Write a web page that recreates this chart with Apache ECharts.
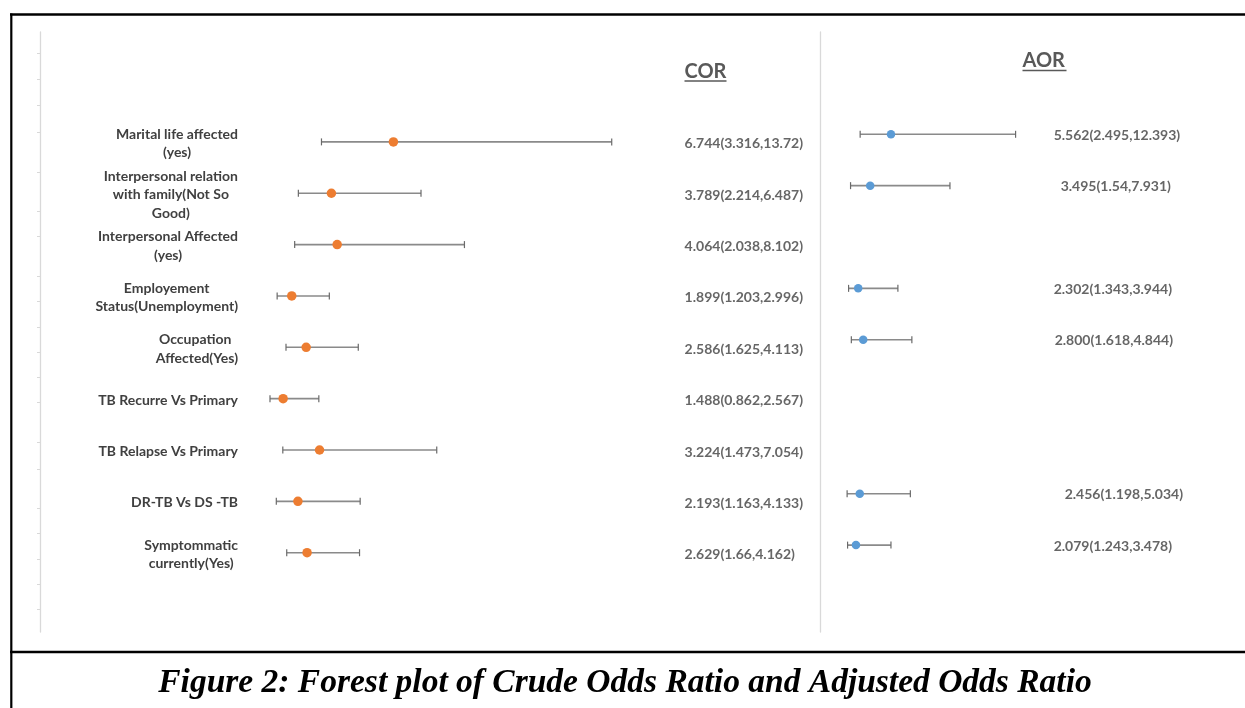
<!DOCTYPE html>
<html><head><meta charset="utf-8">
<script src="https://cdn.jsdelivr.net/npm/echarts@6/dist/echarts.min.js"></script>
<style>html,body{margin:0;padding:0;background:#fff}#c{width:1245px;height:708px}</style>
</head><body><div id="c"></div>
<script>
// ---------------- data ----------------
const categories = [
  'Marital life affected\n(yes)',
  'Interpersonal relation\nwith family(Not So\nGood)',
  'Interpersonal Affected\n(yes)',
  'Employement\nStatus(Unemployment)',
  'Occupation \nAffected(Yes)',
  'TB Recurre Vs Primary',
  'TB Relapse Vs Primary',
  'DR-TB Vs DS -TB',
  'Symptommatic\ncurrently(Yes)'
];
const corEstimate = [6.744, 3.789, 4.064, 1.899, 2.586, 1.488, 3.224, 2.193, 2.629];
const corLower    = [3.316, 2.214, 2.038, 1.203, 1.625, 0.862, 1.473, 1.163, 1.66];
const corUpper    = [13.72, 6.487, 8.102, 2.996, 4.113, 2.567, 7.054, 4.133, 4.162];
// right whisker ends as they are drawn in the picture
const corWhiskerEnd = [17.15, 8.06, 10.13, 3.69, 5.07, 3.19, 8.81, 5.16, 5.13];
const corLabels = ['6.744(3.316,13.72)', '3.789(2.214,6.487)', '4.064(2.038,8.102)', '1.899(1.203,2.996)',
  '2.586(1.625,4.113)', '1.488(0.862,2.567)', '3.224(1.473,7.054)', '2.193(1.163,4.133)', '2.629(1.66,4.162)'];

const aorEstimate = [5.562, 3.495, null, 2.302, 2.800, null, null, 2.456, 2.079];
const aorLower    = [2.495, 1.54, null, 1.343, 1.618, null, null, 1.198, 1.243];
const aorUpper    = [12.393, 7.931, null, 3.944, 4.844, null, null, 5.034, 3.478];
const aorWhiskerEnd = [17.96, 11.43, null, 6.25, 7.64, null, null, 7.49, 5.56];
const aorLabels = ['5.562(2.495,12.393)', '3.495(1.54,7.931)', null, '2.302(1.343,3.944)',
  '2.800(1.618,4.844)', null, null, '2.456(1.198,5.034)', '2.079(1.243,3.478)'];

// faint tick marks on the left axis (in row units)
const corTickValues = [-0.725, -0.211, 0.295, 0.807, 1.592, 2.352, 2.846, 3.611, 4.104, 4.611,
  5.097, 5.592, 6.079, 6.844, 7.376, 8.135, 8.622, 9.123, 9.610, 10.102];

const headers = ['COR', 'AOR'];
const caption = 'Figure 2: Forest plot of Crude Odds Ratio and Adjusted Odds Ratio';

// ---------------- layout constants ----------------
const COR_LABEL_X = 20.6;
const AOR_LABEL_X = 21.7;
const aorLabelShift = [0, 7, 0, 0, 1, 0, 0, 11, 0];
const FONT = 'Lato';
const TXT = '#404040';

const rows = categories.map((_, i) => i + 1);

function errBar(capH) {
  return function (params, api) {
    const y = api.value(2);
    const a = api.coord([api.value(0), y]);
    const b = api.coord([api.value(1), y]);
    const ls = { stroke: '#8a8a8a', lineWidth: 1.6 };
    const cs = { stroke: '#6a6a6a', lineWidth: 1.2 };
    return { type: 'group', children: [
      { type: 'line', shape: { x1: a[0], y1: a[1], x2: b[0], y2: b[1] }, style: ls },
      { type: 'line', shape: { x1: a[0], y1: a[1] - capH, x2: a[0], y2: a[1] + capH }, style: cs },
      { type: 'line', shape: { x1: b[0], y1: b[1] - capH, x2: b[0], y2: b[1] + capH }, style: cs }
    ]};
  };
}

const corBars = rows.map((r, i) => [corLower[i], corWhiskerEnd[i], r]);
const corPts = rows.map((r, i) => [corEstimate[i], r]);
const corTxt = rows.map((r, i) => ({ value: [COR_LABEL_X, r], name: corLabels[i] }));

const aorBars = [], aorPts = [], aorTxt = [];
rows.forEach((r, i) => {
  if (aorEstimate[i] == null) return;
  aorBars.push([aorLower[i], aorWhiskerEnd[i], r]);
  aorPts.push([aorEstimate[i], r]);
  aorTxt.push({ value: [AOR_LABEL_X, r], name: aorLabels[i], label: { offset: [aorLabelShift[i], 1] } });
});

const chart = echarts.init(document.getElementById('c'), null, { renderer: 'canvas' });
chart.setOption({
  animation: false,
  backgroundColor: '#fff',
  grid: [
    { left: 40, top: 32, width: 757.4, height: 600 },
    { left: 820, top: 32, width: 376.9, height: 600 }
  ],
  xAxis: [
    { type: 'value', gridIndex: 0, min: -10.1, max: 26, show: false },
    { type: 'value', gridIndex: 1, min: -1.5, max: 36, show: false }
  ],
  yAxis: [
    { type: 'value', gridIndex: 0, inverse: true, min: -1.14, max: 10.544,
      axisLine: { show: true, onZero: false, lineStyle: { color: '#d9d9d9', width: 1.3 } },
      axisTick: { show: true, length: 3, customValues: corTickValues, lineStyle: { color: '#d9d9d9' } },
      axisLabel: { show: false }, splitLine: { show: false } },
    { type: 'value', gridIndex: 0, inverse: true, min: -1.14, max: 10.544, position: 'left', offset: -206,
      axisLine: { show: false }, axisTick: { show: false }, splitLine: { show: false },
      axisLabel: { show: true, margin: 8, customValues: rows, padding: [3, 0, 0, 0],
        formatter: function (v) {
          const i = Math.round(v) - 1;
          if (i < 0 || i >= categories.length || Math.abs(v - Math.round(v)) > 1e-6) return '';
          return categories[i].split('\n').map(s => '{c|' + s + '}').join('\n');
        },
        rich: { c: { align: 'center', fontFamily: FONT, fontWeight: 'bold', fontSize: 14, lineHeight: 18.4, color: TXT } } } },
    { type: 'value', gridIndex: 1, inverse: true, min: -0.992, max: 10.692,
      axisLine: { show: true, onZero: false, lineStyle: { color: '#d9d9d9', width: 1.3 } },
      axisTick: { show: false }, axisLabel: { show: false }, splitLine: { show: false } }
  ],
  series: [
    { type: 'custom', xAxisIndex: 0, yAxisIndex: 0, renderItem: errBar(3.5), data: corBars, silent: true,
      encode: { x: [0, 1], y: 2 } },
    { type: 'scatter', xAxisIndex: 0, yAxisIndex: 0, data: corPts, symbolSize: 9.5, silent: true,
      itemStyle: { color: '#ED7D31', opacity: 1 } },
    { type: 'scatter', xAxisIndex: 0, yAxisIndex: 0, data: corTxt, symbolSize: 1, silent: true,
      itemStyle: { color: 'rgba(0,0,0,0)' },
      label: { show: true, position: 'right', distance: 0, offset: [0, 2], formatter: p => p.name,
        fontFamily: FONT, fontWeight: 'bold', fontSize: 14, color: TXT } },
    { type: 'custom', xAxisIndex: 1, yAxisIndex: 2, renderItem: errBar(3.5), data: aorBars, silent: true,
      encode: { x: [0, 1], y: 2 } },
    { type: 'scatter', xAxisIndex: 1, yAxisIndex: 2, data: aorPts, symbolSize: 8.5, silent: true,
      itemStyle: { color: '#5B9BD5', opacity: 1 } },
    { type: 'scatter', xAxisIndex: 1, yAxisIndex: 2, data: aorTxt, symbolSize: 1, silent: true,
      itemStyle: { color: 'rgba(0,0,0,0)' },
      label: { show: true, position: 'right', distance: 0, formatter: p => p.name,
        fontFamily: FONT, fontWeight: 'bold', fontSize: 14, color: TXT } }
  ],
  graphic: [
    // frame
    { type: 'line', shape: { x1: 10, y1: 14.5, x2: 1245, y2: 14.5 }, style: { stroke: '#000', lineWidth: 2.6 }, silent: true },
    { type: 'line', shape: { x1: 11.3, y1: 13.5, x2: 11.3, y2: 708 }, style: { stroke: '#000', lineWidth: 2.2 }, silent: true },
    { type: 'line', shape: { x1: 10, y1: 652, x2: 1245, y2: 652 }, style: { stroke: '#000', lineWidth: 2.6 }, silent: true },
    // headers
    { type: 'text', x: 684.5, y: 71.5, style: { text: headers[0], fontFamily: FONT, fontWeight: 'bold', fontSize: 20,
        fill: '#595959', verticalAlign: 'middle', align: 'left' }, silent: true },
    { type: 'line', shape: { x1: 684.5, y1: 81, x2: 726.5, y2: 81 }, style: { stroke: '#595959', lineWidth: 1.6 }, silent: true },
    { type: 'text', x: 1022.5, y: 60.5, style: { text: headers[1], fontFamily: FONT, fontWeight: 'bold', fontSize: 20,
        fill: '#595959', verticalAlign: 'middle', align: 'left' }, silent: true },
    { type: 'line', shape: { x1: 1022.5, y1: 70.5, x2: 1066.5, y2: 70.5 }, style: { stroke: '#595959', lineWidth: 1.6 }, silent: true },
    // caption
    { type: 'text', x: 625, y: 683, style: { text: caption, fontFamily: 'Liberation Serif', fontWeight: 'bold',
        fontStyle: 'italic', fontSize: 33.5, fill: '#000', align: 'center', verticalAlign: 'middle' }, silent: true }
  ]
});
</script>
</body></html>
